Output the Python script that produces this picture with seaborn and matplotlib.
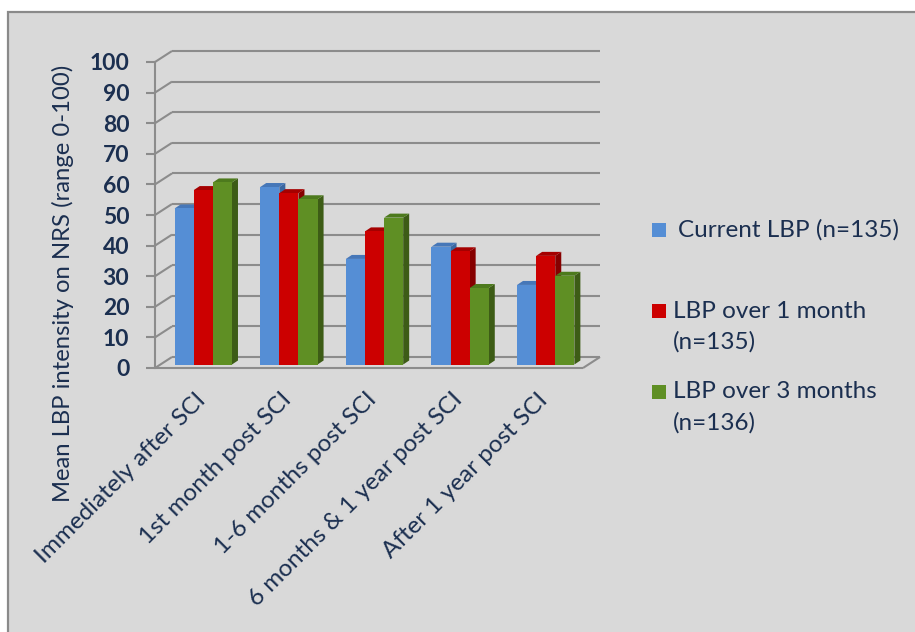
import matplotlib
matplotlib.use("Agg")
import matplotlib.pyplot as plt
from matplotlib.patches import Rectangle, Polygon
from matplotlib.lines import Line2D
from matplotlib.transforms import ScaledTranslation, IdentityTransform
import pandas as pd
import seaborn as sns

# ---- data -------------------------------------------------------------
periods = [
    "Immediately after SCI",
    "1st month post SCI",
    "1-6 months post SCI",
    "6 months & 1 year post SCI",
    "After 1 year post SCI",
]
current_lbp = [51, 58, 34.5, 38.5, 26]
lbp_1_month = [57, 56, 43.5, 37, 35.5]
lbp_3_months = [59.5, 54, 48, 25, 29]
series_names = ["Current LBP (n=135)", "LBP over 1 month (n=135)", "LBP over 3 months (n=136)"]
legend_lines = [["Current LBP (n=135)"], ["LBP over 1 month", "(n=135)"], ["LBP over 3 months", "(n=136)"]]
y_ticks = [0, 10, 20, 30, 40, 50, 60, 70, 80, 90, 100]

df = pd.DataFrame({
    "period": periods * 3,
    "value": current_lbp + lbp_1_month + lbp_3_months,
    "series": [s for s in series_names for _ in periods],
})

# ---- styling ----------------------------------------------------------
sns.set_style("white")
plt.rcParams["font.family"] = ["Lato", "DejaVu Sans"]

NAVY = "#1b2f50"
GRID = "#8c8c8c"
front_cols = ["#558ed5", "#cc0000", "#5f8f24"]
side_cols = ["#3a66a0", "#860000", "#3d5c16"]
top_cols = ["#4677b8", "#a50000", "#4d7a1d"]
TXT = 17.5

W, H = 915, 632
fig = plt.figure(figsize=(W / 100, H / 100), dpi=100, facecolor="white")

# grey chart panel with a thin frame
fig.add_artist(Rectangle((8 / W, -0.05), 1.2, 1 - 12 / H + 0.05, transform=fig.transFigure,
                         facecolor="#d9d9d9", edgecolor="#8a8a8a", lw=1.6, zorder=-10))

ax = fig.add_axes([155 / W, 1 - 368 / H, 428 / W, 306 / H])
ax.set_facecolor("none")

sns.barplot(data=df, x="period", y="value", hue="series", hue_order=series_names,
            palette=front_cols, width=0.67, gap=0, saturation=1, legend=False, ax=ax)

ax.set_xlim(-0.5, len(periods) - 0.5)
ax.set_ylim(0, 100)
ax.set_xlabel("")
ax.set_ylabel("")
ax.set_xticks([])
ax.set_yticks(y_ticks)
ax.tick_params(axis="y", length=6.5, width=1.5, color=GRID, pad=12,
               labelsize=16.5, labelcolor=NAVY, left=True)
for lab in ax.get_yticklabels():
    lab.set_fontweight("bold")
for s in ["top", "right", "bottom"]:
    ax.spines[s].set_visible(False)
ax.spines["left"].set_color(GRID)
ax.spines["left"].set_linewidth(1.5)

# pseudo-3D geometry (pixels): wall depth, bar front offset, bar depth
WALL_DX, WALL_DY = 17, 11
BAR_FX, BAR_FY = 5.5, 3.5
BAR_DX, BAR_DY = 6, 4


def px(x, y, dx=0.0, dy=0.0):
    X, Y = ax.transData.transform((x, y))
    return (X + dx, Y + dy)


def seg(p, q, z=1):
    ax.add_line(Line2D([p[0], q[0]], [p[1], q[1]], transform=IdentityTransform(),
                       color=GRID, lw=1.5, zorder=z, clip_on=False,
                       solid_capstyle="butt"))


x_lo, x_hi = ax.get_xlim()
# back wall gridlines and the left wall diagonals
for t in y_ticks:
    seg(px(x_lo, t, WALL_DX, WALL_DY), px(x_hi, t, WALL_DX, WALL_DY))
    seg(px(x_lo, t), px(x_lo, t, WALL_DX, WALL_DY))
# floor front edge and right diagonal
seg(px(x_lo, 0), px(x_hi, 0))
seg(px(x_hi, 0), px(x_hi, 0, WALL_DX, WALL_DY))

# bars: shift the fronts into the middle of the depth and add top/side faces
front_shift = ax.transData + ScaledTranslation(BAR_FX / 100, BAR_FY / 100, fig.dpi_scale_trans)
for k, cont in enumerate(ax.containers):
    for bar in cont:
        x0, w, h = bar.get_x(), bar.get_width(), bar.get_height()
        z = 3 + (x0 + w / 2) * 0.1
        bar.set_transform(front_shift)
        bar.set_zorder(z)
        bar.set_edgecolor("none")
        bar.set_clip_on(False)
        br = px(x0 + w, 0, BAR_FX, BAR_FY)
        tr = px(x0 + w, h, BAR_FX, BAR_FY)
        tl = px(x0, h, BAR_FX, BAR_FY)
        side = [br, tr, (tr[0] + BAR_DX, tr[1] + BAR_DY), (br[0] + BAR_DX, br[1] + BAR_DY)]
        top = [tl, tr, (tr[0] + BAR_DX, tr[1] + BAR_DY), (tl[0] + BAR_DX, tl[1] + BAR_DY)]
        ax.add_patch(Polygon(side, closed=True, transform=IdentityTransform(),
                             facecolor=side_cols[k], edgecolor="none", zorder=z - 0.01, clip_on=False))
        ax.add_patch(Polygon(top, closed=True, transform=IdentityTransform(),
                             facecolor=top_cols[k], edgecolor="none", zorder=z - 0.01, clip_on=False))

# rotated category labels
lab_shift = ax.transData + ScaledTranslation(-3 / 100, -21 / 100, fig.dpi_scale_trans)
for i, name in enumerate(periods):
    ax.text(i, 0, name, transform=lab_shift, rotation=45, rotation_mode="anchor",
            ha="right", va="top", fontsize=TXT, color=NAVY, clip_on=False)

# y axis title
fig.text(63 / W, 1 - 283 / H, "Mean LBP intensity on NRS (range 0-100)", rotation=90,
         ha="center", va="center", fontsize=17.2, color=NAVY)

# legend
key_y = [230, 311, 392]
text_x = [678, 673, 673]
for k, lines in enumerate(legend_lines):
    fig.add_artist(Rectangle((652 / W, 1 - (key_y[k] + 7) / H), 14 / W, 14 / H,
                             transform=fig.transFigure, facecolor=front_cols[k], edgecolor="none"))
    for j, line in enumerate(lines):
        fig.text(text_x[k] / W, 1 - (key_y[k] + 31 * j) / H, line, ha="left", va="center",
                 fontsize=TXT, color=NAVY)

fig.savefig("out.png", dpi=100, facecolor="white")
